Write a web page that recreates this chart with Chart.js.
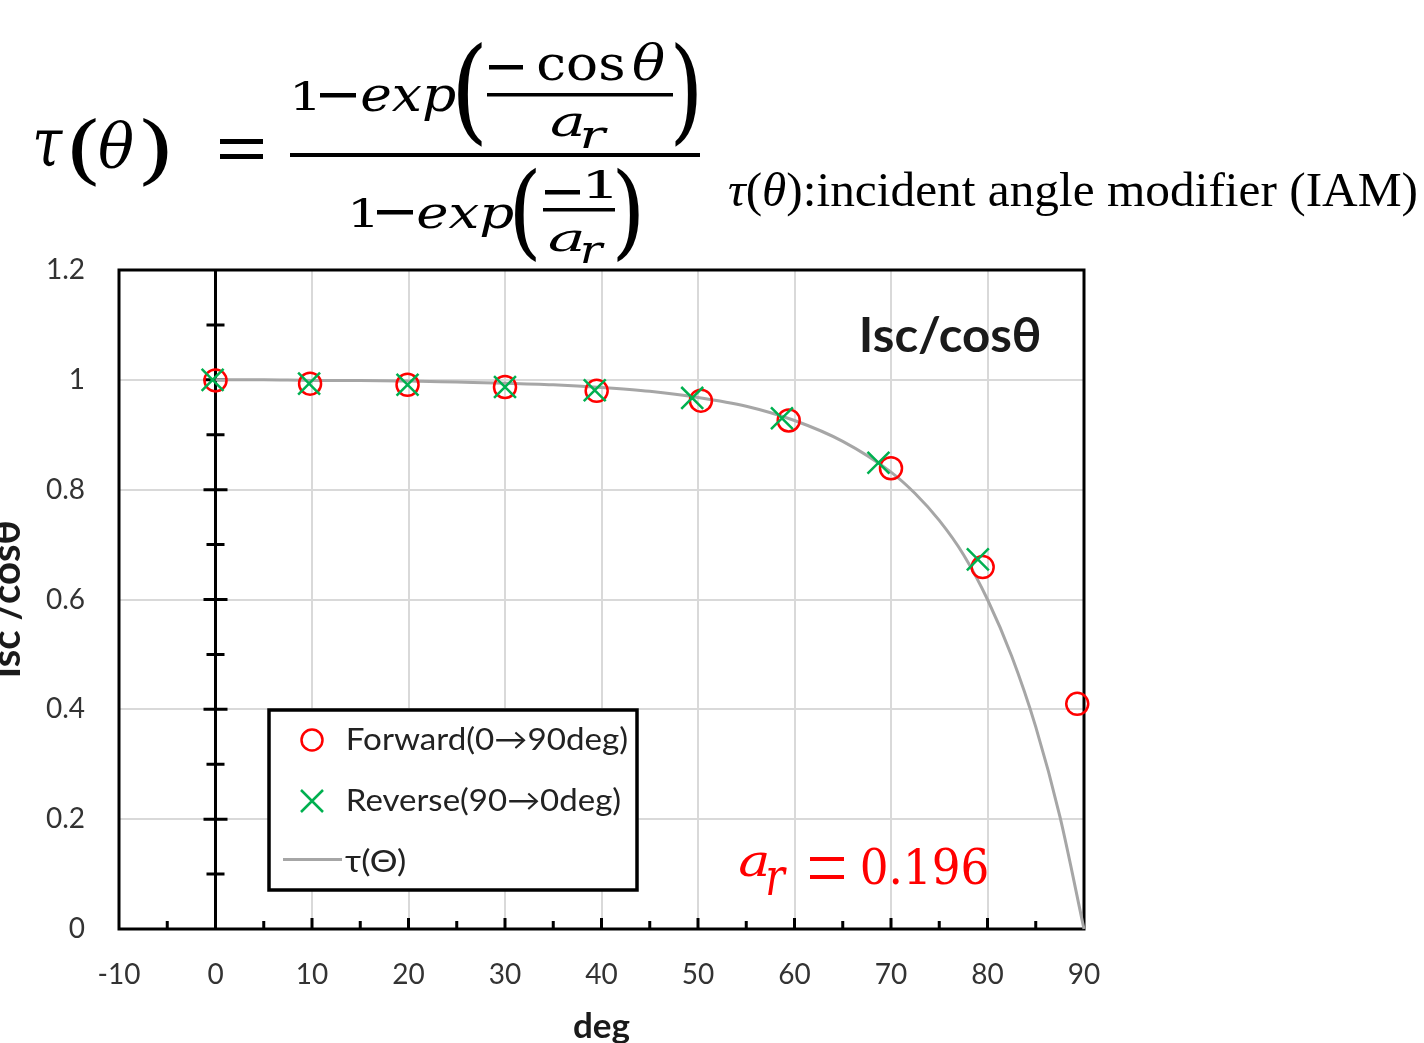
<!DOCTYPE html>
<html>
<head>
<meta charset="utf-8">
<script src="https://cdn.jsdelivr.net/npm/chart.js@4.4.0/dist/chart.umd.min.js"></script>
<style>
html,body{margin:0;padding:0;background:#fff;overflow:hidden}
canvas{display:block}
</style>
</head>
<body>
<canvas id="c" width="1424" height="1043"></canvas>
<script>
// ---------------- data ----------------
const xTickLabels = ['-10','0','10','20','30','40','50','60','70','80','90'];
const yTickLabels = ['0','0.2','0.4','0.6','0.8','1','1.2'];

const forwardLabel = 'Forward(0\u219290deg)';
const forwardAngle = [0, 9.8, 19.9, 30.0, 39.5, 50.3, 59.4, 70.0, 79.5, 89.3];
const forwardIsc   = [0.999, 0.993, 0.991, 0.987, 0.980, 0.962, 0.926, 0.839, 0.659, 0.410];

const reverseLabel = 'Reverse(90\u21920deg)';
const reverseAngle = [-0.3, 9.7, 19.9, 30.0, 39.3, 49.4, 58.7, 68.7, 79.0];
const reverseIsc   = [1.000, 0.993, 0.991, 0.987, 0.981, 0.967, 0.930, 0.849, 0.673];

const tauLabel = '\u03c4(\u0398)';
const tauAngle = [0, 5, 10, 15, 20, 25, 30, 35, 40, 45, 50, 55, 60, 65, 70, 72.5, 75, 77.5, 80, 82.5, 85, 87.5, 90];
const tauValue = [1.000, 1.000, 0.999, 0.999, 0.998, 0.996, 0.994, 0.991, 0.986, 0.979, 0.968, 0.952, 0.926, 0.888, 0.832, 0.793, 0.744, 0.682, 0.600, 0.497, 0.368, 0.205, 0.000];

const arText = '0.196';

// ---------------- helpers ----------------
const RED = '#ff0000', GREEN = '#00b050', GRAY = '#a6a6a6';
function pts(xs, ys){ return xs.map((x,i)=>({x:x, y:ys[i]})); }

function fitBox(ctx, text, font, x0, y0, x1, y1, color){
  ctx.save();
  ctx.font = font; ctx.textAlign = 'left'; ctx.textBaseline = 'alphabetic';
  const m = ctx.measureText(text);
  const w = m.actualBoundingBoxLeft + m.actualBoundingBoxRight;
  const h = m.actualBoundingBoxAscent + m.actualBoundingBoxDescent;
  ctx.translate(x0, y0);
  ctx.scale((x1-x0)/w, (y1-y0)/h);
  ctx.fillStyle = color;
  ctx.fillText(text, m.actualBoundingBoxLeft, m.actualBoundingBoxAscent);
  ctx.restore();
}
function fitX(ctx, text, font, x0, x1, baseline, color){
  ctx.save();
  ctx.font = font; ctx.textAlign = 'left'; ctx.textBaseline = 'alphabetic';
  const m = ctx.measureText(text);
  const w = m.actualBoundingBoxLeft + m.actualBoundingBoxRight;
  ctx.translate(x0, baseline);
  ctx.scale((x1-x0)/w, 1);
  ctx.fillStyle = color;
  ctx.fillText(text, m.actualBoundingBoxLeft, 0);
  ctx.restore();
}
function bar(ctx, x0, y0, x1, y1, color){ ctx.fillStyle = color; ctx.fillRect(x0, y0, x1-x0, y1-y0); }

// ---------------- plugins ----------------
const framePlugin = {
  id: 'frame',
  beforeDatasetsDraw(chart){
    const {ctx, chartArea:a, scales:{x, y}} = chart;
    ctx.save();
    ctx.strokeStyle = '#000'; ctx.lineWidth = 3; ctx.lineCap = 'butt';
    ctx.strokeRect(a.left, a.top, a.right-a.left, a.bottom-a.top);
    const x0 = x.getPixelForValue(0);
    ctx.beginPath(); ctx.moveTo(x0, a.top); ctx.lineTo(x0, a.bottom); ctx.stroke();
    // crossing ticks on the x = 0 axis
    ctx.beginPath();
    for (let k = 1; k <= 11; k++){
      const py = y.getPixelForValue(k/10);
      const half = (k % 2 === 0) ? 12 : 9;
      ctx.moveTo(x0-half, py); ctx.lineTo(x0+half, py);
    }
    // inside ticks on the bottom axis
    for (let v = -5; v < 90; v += 5){
      if (v === 0) continue;
      const px = x.getPixelForValue(v);
      const len = (v % 10 === 0) ? 11 : 8;
      ctx.moveTo(px, a.bottom); ctx.lineTo(px, a.bottom-len);
    }
    ctx.stroke();
    ctx.restore();
  }
};

const overlayPlugin = {
  id: 'overlay',
  afterDraw(chart){
    const ctx = chart.ctx;
    const ds = chart.data.datasets;
    ctx.save();
    // ---- legend ----
    ctx.fillStyle = '#fff'; ctx.fillRect(269, 710, 368, 180);
    ctx.strokeStyle = '#000'; ctx.lineWidth = 3.5; ctx.strokeRect(269, 710, 368, 180);
    ctx.strokeStyle = ds[0].borderColor; ctx.lineWidth = 2.5;
    ctx.beginPath(); ctx.arc(312, 740, 10.5, 0, Math.PI*2); ctx.stroke();
    ctx.strokeStyle = ds[1].borderColor;
    ctx.beginPath(); ctx.moveTo(301, 790); ctx.lineTo(323, 812); ctx.moveTo(323, 790); ctx.lineTo(301, 812); ctx.stroke();
    ctx.strokeStyle = ds[2].borderColor; ctx.lineWidth = 3;
    ctx.beginPath(); ctx.moveTo(283, 859.5); ctx.lineTo(342, 859.5); ctx.stroke();
    const LF = '30px Lato';
    fitX(ctx, ds[0].label, LF, 348, 627, 750, '#222');
    fitX(ctx, ds[1].label, LF, 348, 620, 811, '#222');
    fitX(ctx, ds[2].label, LF, 345, 405, 872, '#222');

    // ---- in-plot title ----
    fitX(ctx, 'Isc/cos\u03b8', 'bold 47px Lato', 862, 1040, 352, '#1a1a1a');

    // ---- a_r = 0.196 ----
    const MI = 'italic 60px "DejaVu Serif"', MR = '60px "DejaVu Serif"';
    fitBox(ctx, 'a', MI, 740, 852, 767, 877, RED);
    fitBox(ctx, 'r', MI, 768, 867, 787, 895, RED);
    bar(ctx, 810, 857, 844, 861, RED);
    bar(ctx, 810, 875, 844, 879, RED);
    fitBox(ctx, arText, MR, 862, 848, 987, 885, RED);

    // ---- formula ----
    const K = '#000';
    const pieces = [
      ['\u03c4', MI, 35,130,63,168],
      ['(', MR, 71,117,97,187],
      ['\u03b8', MI, 98,120,134,168],
      [')', MR, 143,117,168,187],
      ['1', MR, 295,80,315,110],
      ['exp', MI, 362,85,455,122],
      ['(', MR, 457,42,483,148],
      ['cos', MR, 538,54,623,81],
      ['\u03b8', MI, 632,41,665,81],
      ['a', MI, 552,113,582,137],
      ['r', MI, 583,127,608,148],
      [')', MR, 675,42,697,148],
      ['1', MR, 353,197,373,227],
      ['exp', MI, 418,205,513,238],
      ['(', MR, 514,167,537,263],
      ['1', MR, 588,170,612,198],
      ['a', MI, 550,230,582,252],
      ['r', MI, 583,242,605,263],
      [')', MR, 617,167,639,263]
    ];
    pieces.forEach(p => fitBox(ctx, p[0], p[1], p[2], p[3], p[4], p[5], K));
    const bars = [
      [220,139,263,144],[220,154,263,159],
      [320,93,356,97.5],[489,65,523,69.5],[487,93,673,96.5],
      [290,153,700,157],
      [377,210,413,214.5],[545,190,580,194.5],[543,208,615,211.5]
    ];
    bars.forEach(b => bar(ctx, b[0], b[1], b[2], b[3], K));

    // ---- caption ----
    const segs = [
      ['\u03c4', 'italic 49px "Liberation Serif"'],
      ['(', '49px "Liberation Serif"'],
      ['\u03b8', 'italic 49px "Liberation Serif"'],
      [')', '49px "Liberation Serif"'],
      [':incident angle modifier (IAM)', '49px "Liberation Serif"']
    ];
    let total = 0;
    segs.forEach(s => { ctx.font = s[1]; total += ctx.measureText(s[0]).width; });
    const sc = (1418 - 728) / total;
    ctx.save();
    ctx.translate(728, 206); ctx.scale(sc, 1);
    ctx.fillStyle = '#000'; ctx.textAlign = 'left'; ctx.textBaseline = 'alphabetic';
    let cx = 0;
    segs.forEach(s => { ctx.font = s[1]; ctx.fillText(s[0], cx, 0); cx += ctx.measureText(s[0]).width; });
    ctx.restore();
    ctx.restore();
  }
};

// ---------------- chart ----------------
new Chart(document.getElementById('c'), {
  type: 'scatter',
  data: {
    datasets: [
      { label: forwardLabel, data: pts(forwardAngle, forwardIsc), pointStyle: 'circle',
        pointRadius: 11, borderWidth: 2.5, pointBorderWidth: 2.5, borderColor: RED,
        pointBorderColor: RED, backgroundColor: 'rgba(0,0,0,0)', pointBackgroundColor: 'rgba(0,0,0,0)',
        order: 1, clip: false },
      { label: reverseLabel, data: pts(reverseAngle, reverseIsc), pointStyle: 'crossRot',
        pointRadius: 15.5, borderWidth: 2.5, pointBorderWidth: 2.5, borderColor: GREEN,
        pointBorderColor: GREEN, backgroundColor: 'rgba(0,0,0,0)', order: 0, clip: false },
      { label: tauLabel, data: pts(tauAngle, tauValue), showLine: true, pointRadius: 0,
        borderColor: GRAY, borderWidth: 3, cubicInterpolationMode: 'monotone',
        order: 2, clip: false }
    ]
  },
  options: {
    responsive: false, animation: false, devicePixelRatio: 1, events: [],
    layout: { padding: { top: 270, right: 340, bottom: 0, left: 0 } },
    plugins: { legend: { display: false }, tooltip: { enabled: false } },
    scales: {
      x: {
        type: 'linear', min: -10, max: 90,
        ticks: { stepSize: 10, padding: 29, color: '#333', font: { family: 'Lato', size: 28 },
                 callback: (v, i) => xTickLabels[i] },
        grid: { color: '#d9d9d9', lineWidth: 2, drawTicks: false },
        border: { display: false },
        title: { display: true, text: 'deg', color: '#1a1a1a', padding: 0,
                 font: { family: 'Lato', size: 35, weight: 'bold', lineHeight: 0.94 } },
        afterFit: s => { s.height = 114; }
      },
      y: {
        type: 'linear', min: 0, max: 1.2,
        ticks: { stepSize: 0.2, padding: 34, color: '#333', font: { family: 'Lato', size: 28 },
                 callback: (v, i) => yTickLabels[i] },
        grid: { color: '#d9d9d9', lineWidth: 2, drawTicks: false },
        border: { display: false },
        title: { display: true, text: 'Isc /cos\u03b8', color: '#1a1a1a', padding: 0,
                 font: { family: 'Lato', size: 40, weight: 'bold', lineHeight: 0.375 } },
        afterFit: s => { s.width = 119; }
      }
    }
  },
  plugins: [framePlugin, overlayPlugin]
});
</script>
</body>
</html>
